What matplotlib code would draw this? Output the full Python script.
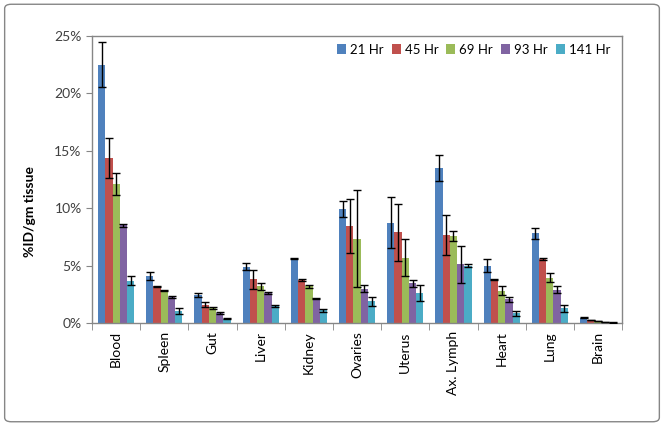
import matplotlib.pyplot as plt
import numpy as np
from matplotlib.patches import FancyBboxPatch
from matplotlib.ticker import FuncFormatter

plt.rcParams['font.family'] = ['Lato', 'DejaVu Sans']

tissues = ['Blood', 'Spleen', 'Gut', 'Liver', 'Kidney', 'Ovaries', 'Uterus',
           'Ax. Lymph', 'Heart', 'Lung', 'Brain']
series = ['21 Hr', '45 Hr', '69 Hr', '93 Hr', '141 Hr']

# mean %ID/gm per time point
hr21 = [22.5, 4.1, 2.45, 4.9, 5.6, 9.95, 8.75, 13.5, 5.0, 7.8, 0.46]
hr45 = [14.35, 3.2, 1.6, 3.8, 3.75, 8.45, 7.9, 7.7, 3.77, 5.57, 0.25]
hr69 = [12.1, 2.8, 1.33, 3.2, 3.2, 7.35, 5.7, 7.6, 2.8, 3.95, 0.15]
hr93 = [8.5, 2.27, 0.87, 2.6, 2.1, 3.0, 3.45, 5.1, 2.07, 2.9, 0.08]
hr141 = [3.7, 1.05, 0.37, 1.5, 1.1, 1.9, 2.6, 5.0, 0.85, 1.28, 0.04]

# error bar half-widths
err21 = [1.95, 0.35, 0.15, 0.3, 0.05, 0.7, 2.2, 1.1, 0.6, 0.45, 0.02]
err45 = [1.75, 0.05, 0.25, 0.85, 0.05, 2.35, 2.5, 1.75, 0.05, 0.05, 0.02]
err69 = [0.95, 0.05, 0.1, 0.3, 0.15, 4.2, 1.6, 0.45, 0.4, 0.4, 0.01]
err93 = [0.15, 0.1, 0.05, 0.1, 0.05, 0.3, 0.3, 1.65, 0.2, 0.3, 0.01]
err141 = [0.35, 0.25, 0.05, 0.1, 0.1, 0.4, 0.7, 0.1, 0.2, 0.3, 0.01]

colors = ['#4F81BD', '#C0504D', '#9BBB59', '#8064A2', '#4BACC6']

values = [hr21, hr45, hr69, hr93, hr141]
errors = [err21, err45, err69, err93, err141]

fig = plt.figure(figsize=(6.64, 4.26), dpi=100)
ax = fig.add_axes([0.1386, 0.2418, 0.7984, 0.6737])

x = np.arange(len(tissues))
w = 0.15
for i, (vals, errs) in enumerate(zip(values, errors)):
    pos = x + (i - 2) * w
    ax.bar(pos, vals, width=w, color=colors[i], label=series[i], zorder=2)
    ax.errorbar(pos, vals, yerr=errs, fmt='none', ecolor='black',
                elinewidth=1, capsize=3, capthick=1, zorder=3)

ax.set_xlim(-0.5, len(tissues) - 0.5)
ax.set_ylim(0, 25)
ax.set_yticks([0, 5, 10, 15, 20, 25])
ax.yaxis.set_major_formatter(FuncFormatter(lambda v, p: f'{int(v)}%'))
ax.set_xticks(x)
ax.set_xticklabels(tissues, rotation=90, fontsize=10)
ax.set_xticks(np.arange(-0.5, len(tissues), 1), minor=True)
ax.tick_params(axis='x', which='major', length=0, pad=6)
ax.tick_params(axis='x', which='minor', length=5, color='#868686', direction='out')
ax.tick_params(axis='y', length=4, color='#868686', labelsize=10, labelcolor='#404040')
ax.set_ylabel('%ID/gm tissue', fontsize=10, fontweight='bold')
ax.yaxis.set_label_coords(-0.105, 0.39)

for s in ax.spines.values():
    s.set_color('#868686')
    s.set_linewidth(1)

ax.legend(loc='upper right', ncol=5, frameon=False, fontsize=9.5,
          handlelength=0.7, handleheight=0.7, handletextpad=0.3,
          columnspacing=0.6, bbox_to_anchor=(1.0, 1.015))

border = FancyBboxPatch((0.007, 0.01), 0.986, 0.98, boxstyle='round,pad=0,rounding_size=0.01',
                        transform=fig.transFigure, fill=False, edgecolor='#868686',
                        linewidth=1)
fig.patches.append(border)

fig.savefig('out.png', dpi=100)
